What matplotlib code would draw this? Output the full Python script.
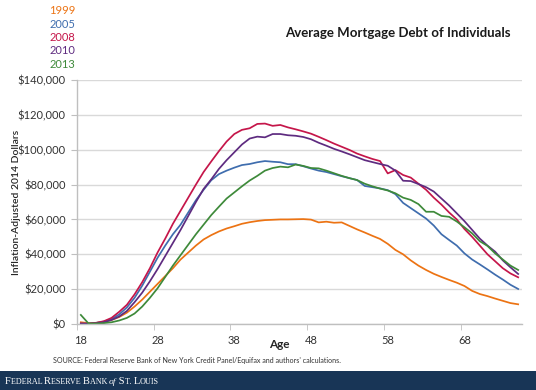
import matplotlib
matplotlib.use("Agg")
import matplotlib.pyplot as plt
from matplotlib.ticker import FuncFormatter, FixedLocator

# ---------------- data (thousands of 2014 dollars) ----------------
ages = list(range(18, 76))

debt_1999 = [1.0, 0.5, 0.6, 1.2, 2.3, 4.0, 6.5, 10.0, 14.0, 18.5,
             23.0, 27.5, 32.0, 37.0, 41.0, 45.0, 48.5, 51.0, 53.1, 54.8,
             56.1, 57.5, 58.4, 59.1, 59.6, 59.8, 60.0, 60.0, 60.1, 60.2,
             59.9, 58.3, 58.7, 58.1, 58.3, 56.3, 54.3, 52.5, 50.6, 48.8,
             46.0, 42.5, 40.0, 36.5, 33.5, 31.0, 28.8, 27.0, 25.3, 23.7,
             21.8, 19.0, 17.2, 16.0, 14.6, 13.3, 12.0, 11.3]
debt_2005 = [0.2, 0.2, 0.6, 1.4, 2.8, 5.5, 9.5, 15.0, 22.0, 30.0,
             38.0, 45.0, 51.5, 57.0, 64.0, 71.0, 77.0, 82.5, 86.0, 88.0,
             89.7, 91.2, 91.8, 92.8, 93.5, 93.1, 92.8, 91.7, 91.7, 90.5,
             89.2, 88.0, 87.2, 86.0, 84.8, 83.7, 82.6, 79.2, 78.5, 77.8,
             76.8, 74.5, 69.5, 66.5, 63.5, 60.5, 56.5, 51.5, 48.2, 45.0,
             40.5, 37.0, 34.2, 31.3, 28.3, 25.5, 22.5, 20.1]
debt_2008 = [0.3, 0.2, 0.7, 1.6, 3.5, 7.0, 11.0, 17.0, 24.0, 32.0,
             41.0, 49.0, 57.5, 65.0, 72.5, 80.0, 87.2, 93.3, 99.2, 104.7,
             109.0, 111.4, 112.3, 114.8, 115.0, 113.7, 114.2, 112.8, 111.7, 110.5,
             109.2, 107.4, 105.5, 103.5, 101.7, 99.9, 97.8, 96.2, 94.7, 93.5,
             86.4, 88.3, 85.5, 84.0, 80.5, 77.0, 72.5, 68.5, 64.0, 60.0,
             54.5, 50.0, 45.0, 40.0, 36.0, 32.0, 29.0, 26.8]
debt_2010 = [0.2, 0.1, 0.4, 1.0, 2.3, 4.3, 7.5, 12.5, 18.0, 24.5,
             31.5, 39.0, 46.5, 54.0, 62.0, 70.0, 77.5, 83.0, 89.0, 94.0,
             98.5, 103.0, 106.4, 107.5, 107.1, 109.0, 109.0, 108.3, 108.0, 107.3,
             106.0, 104.0, 102.3, 100.5, 99.0, 97.4, 95.7, 94.0, 92.9, 91.8,
             90.8, 88.0, 82.2, 82.0, 80.3, 78.5, 76.0, 72.0, 68.0, 63.5,
             59.0, 54.0, 49.0, 45.0, 41.5, 36.5, 32.5, 28.7]
debt_2013 = [5.2, 0.3, 0.3, 0.5, 1.0, 2.0, 3.5, 6.0, 10.0, 15.0,
             20.5, 27.0, 33.5, 39.5, 45.5, 51.5, 57.0, 62.5, 67.3, 72.0,
             75.5, 79.0, 82.3, 85.0, 88.0, 89.5, 90.3, 89.9, 91.5, 90.7,
             89.5, 89.3, 88.0, 86.5, 85.0, 83.7, 82.6, 80.5, 79.0, 77.7,
             76.6, 75.0, 72.5, 71.2, 68.8, 64.4, 64.4, 62.0, 61.5, 58.8,
             55.5, 52.0, 47.5, 44.8, 40.5, 37.0, 33.5, 31.0]

years = ["1999", "2005", "2008", "2010", "2013"]
series = [debt_1999, debt_2005, debt_2008, debt_2010, debt_2013]
colors = ["#EC7313", "#3F6DAE", "#C5164A", "#5E2B80", "#3E8A3A"]

x_tick_labels = [18, 28, 38, 48, 58, 68]
y_ticks = [0, 20000, 40000, 60000, 80000, 100000, 120000, 140000]

title = "Average Mortgage Debt of Individuals"
ylabel = "Inflation-Adjusted 2014 Dollars"
xlabel = "Age"
source = "SOURCE: Federal Reserve Bank of New York Credit Panel/Equifax and authors' calculations."

# ---------------- figure ----------------
W, H = 536, 390
plt.rcParams['font.family'] = ['Lato', 'DejaVu Sans']
fig = plt.figure(figsize=(W / 100, H / 100), dpi=100)
fig.patch.set_facecolor("white")

def fx(px):
    return px / W

def fy(py):
    return 1 - py / H

ax = fig.add_axes([fx(77), fy(324), fx(522) - fx(77), fy(80) - fy(324)])

for yr, vals, c in zip(years, series, colors):
    ax.plot(ages, [v * 1000 for v in vals], color=c, lw=1.25, solid_joinstyle='round')

ax.set_xlim(17.5, 75.5)
ax.set_ylim(0, 140000)
ax.set_yticks(y_ticks)
ax.yaxis.set_major_formatter(FuncFormatter(lambda v, p: "${:,.0f}".format(v)))
ax.set_xticks(x_tick_labels)
ax.set_xticklabels([str(v) for v in x_tick_labels])
ax.xaxis.set_minor_locator(FixedLocator([t - 0.5 for t in x_tick_labels]))

ax.grid(axis='y', color='#D9D9D9', lw=1.0)
ax.set_axisbelow(True)
for s in ['top', 'right']:
    ax.spines[s].set_visible(False)
for s in ['left', 'bottom']:
    ax.spines[s].set_color('#BFBFBF')
    ax.spines[s].set_linewidth(1.0)

ax.tick_params(axis='y', length=4, color='#BFBFBF', pad=4, labelsize=8, labelcolor='#333333')
ax.tick_params(axis='x', which='major', length=0, pad=8, labelsize=8, labelcolor='#333333')
ax.tick_params(axis='x', which='minor', length=4, color='#BFBFBF')

fig.text(fx(17), fy(202), ylabel, rotation=90, ha='center', va='center',
         fontsize=7.5, weight='semibold', color='#262626')
fig.text(fx(279), fy(345), xlabel, ha='center', va='center',
         fontsize=8.5, weight='bold', color='#262626')

fig.text(fx(398), fy(33), title, ha='center', va='center',
         fontsize=9.5, weight='bold', color='#1a1a1a')

legend_y = [11, 24.5, 37.5, 51, 64]
for yr, c, ly in zip(years, colors, legend_y):
    fig.text(fx(75), fy(ly), yr, ha='right', va='center', fontsize=8, color=c)

fig.text(fx(53), fy(360), source, ha='left', va='center', fontsize=5.1, color='#333333')

# footer band
band = plt.Rectangle((0, 0), 1, fy(371), transform=fig.transFigure,
                     facecolor='#183556', edgecolor='none', zorder=0)
fig.patches.append(band)

# small-caps style footer text
pieces = [("F", 7.6, 'normal'), ("EDERAL ", 5.9, 'normal'),
          ("R", 7.6, 'normal'), ("ESERVE ", 5.9, 'normal'),
          ("B", 7.6, 'normal'), ("ANK ", 5.9, 'normal'),
          ("of", 6.8, 'italic'), (" S", 7.6, 'normal'),
          ("T. ", 5.9, 'normal'), ("L", 7.6, 'normal'), ("OUIS", 5.9, 'normal')]
fig.canvas.draw()
renderer = fig.canvas.get_renderer()
xcur = 5.0
base = 384.0
for txt, size, style in pieces:
    t = fig.text(fx(xcur), fy(base), txt, ha='left', va='baseline', fontsize=size,
                 style=style, color='white', family=['Liberation Serif', 'DejaVu Serif'])
    bb = t.get_window_extent(renderer=renderer)
    xcur += bb.width

fig.savefig("out.png", dpi=100, facecolor='white')
